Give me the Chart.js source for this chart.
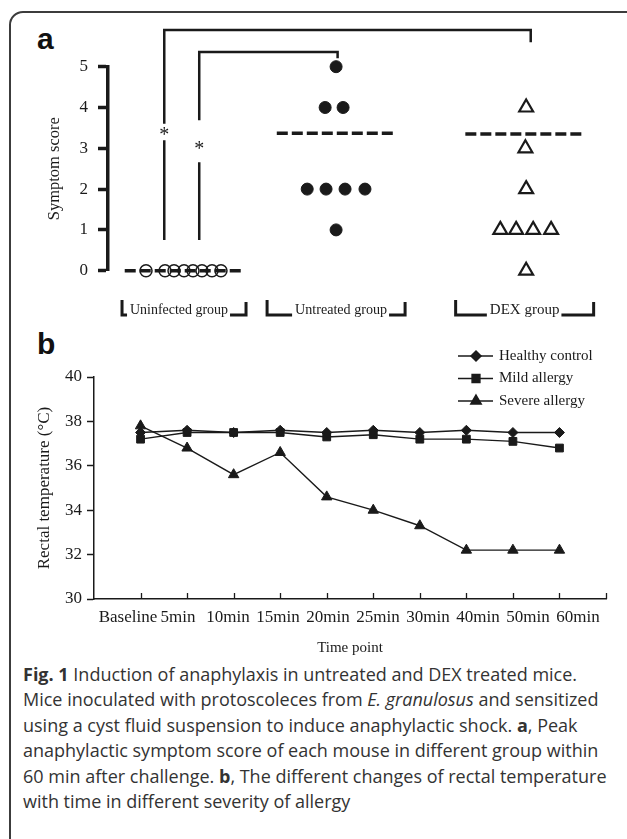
<!DOCTYPE html>
<html>
<head>
<meta charset="utf-8">
<script src="https://cdn.jsdelivr.net/npm/chart.js@4.4.0/dist/chart.umd.min.js"></script>
<style>
  html, body { margin: 0; padding: 0; background: #fff; width: 627px; height: 839px; overflow: hidden; }
  #frame { position: absolute; left: 9px; top: 11px; width: 700px; height: 900px;
           border: 2px solid #3c3c3c; border-top-left-radius: 14px; }
  .panel { position: absolute; font-family: "Liberation Sans", Arial, sans-serif; font-weight: bold;
           font-size: 30px; color: #111; line-height: 1; }
  #wrapA { position: absolute; left: 0; top: 0; width: 627px; height: 330px; }
  #wrapB { position: absolute; left: 0; top: 330px; width: 627px; height: 330px; }
  #caption { position: absolute; left: 23px; top: 662px; font-family: "Open Sans", sans-serif;
             font-size: 18px; line-height: 25.4px; color: #333; white-space: nowrap; }
</style>
</head>
<body>
<div id="frame"></div>
<div class="panel" style="left:37px; top:24px;">a</div>
<div class="panel" style="left:37px; top:329px;">b</div>
<div id="wrapA"><canvas id="chartA"></canvas></div>
<div id="wrapB"><canvas id="chartB"></canvas></div>
<div id="caption"><b>Fig. 1</b> Induction of anaphylaxis in untreated and DEX treated mice.<br>Mice inoculated with protoscoleces from <i>E. granulosus</i> and sensitized<br>using a cyst fluid suspension to induce anaphylactic shock. <b>a</b>, Peak<br>anaphylactic symptom score of each mouse in different group within<br>60 min after challenge. <b>b</b>, The different changes of rectal temperature<br>with time in different severity of allergy</div>

<script>
// ---- panel a: symptom scores ----
const groupNames = ['Uninfected group', 'Untreated group', 'DEX group'];
const groupPos = [1, 2, 3.24];
const uninfectedScores = [0, 0, 0, 0, 0, 0, 0, 0];
const uninfectedJitter = [-0.25, -0.125, -0.066, 0, 0.059, 0.118, 0.184, 0.243];
const untreatedScores = [5, 4, 4, 2, 2, 2, 2, 1];
const untreatedJitter = [0, -0.072, 0.046, -0.19, -0.066, 0.059, 0.19, 0];
const dexScores = [4, 3, 2, 1, 1, 1, 1, 0];
const dexJitter = [0.01, 0.005, 0.01, -0.16, -0.056, 0.056, 0.174, 0.01];
const groupMeans = [0, 3.37, 3.35];

// ---- panel b: rectal temperature ----
const timeLabels = ['Baseline', '5min', '10min', '15min', '20min', '25min', '30min', '40min', '50min', '60min'];
const healthyTemp = [37.5, 37.6, 37.5, 37.6, 37.5, 37.6, 37.5, 37.6, 37.5, 37.5];
const mildTemp = [37.2, 37.5, 37.5, 37.5, 37.3, 37.4, 37.2, 37.2, 37.1, 36.8];
const severeTemp = [37.8, 36.8, 35.6, 36.6, 34.6, 34.0, 33.3, 32.2, 32.2, 32.2];

const serif = '"Liberation Serif", "Times New Roman", serif';
const ink = '#1a1a1a';

function points(scores, jitter, g) {
  return scores.map((s, i) => ({ x: groupPos[g] + jitter[i], y: s }));
}
function meanLine(g) {
  return [{ x: groupPos[g] - 0.39, y: groupMeans[g] }, { x: groupPos[g] + 0.39, y: groupMeans[g] }];
}

// significance brackets (group index, y levels in score units)
const sigBrackets = [
  { from: 0, to: 2, leftOff: -0.13, rightOff: 0.04, top: 5.9, drop: 5.6, gapTop: 3.6, gapBottom: 3.2, star: 3.42, bottom: 0.75 },
  { from: 0, to: 1, leftOff: 0.1, rightOff: 0.01, top: 5.36, drop: 5.21, gapTop: 3.69, gapBottom: 2.66, star: 3.08, bottom: 0.75 }
];
const labelHalf = [62, 69, 69];
const labelShift = [-5, 5, 0];
const labelMaxW = [98, 92, 70];

const annotA = {
  id: 'annotA',
  afterDraw(chart) {
    const { ctx, scales: { x, y } } = chart;
    ctx.save();
    ctx.strokeStyle = ink;
    ctx.fillStyle = ink;
    ctx.lineWidth = 2.5;
    sigBrackets.forEach(b => {
      const xl = x.getPixelForValue(groupPos[b.from] + b.leftOff);
      const xr = x.getPixelForValue(groupPos[b.to] + b.rightOff);
      const yt = y.getPixelForValue(b.top);
      ctx.beginPath();
      ctx.moveTo(xl, y.getPixelForValue(b.gapTop));
      ctx.lineTo(xl, yt);
      ctx.lineTo(xr, yt);
      ctx.lineTo(xr, y.getPixelForValue(b.drop));
      ctx.moveTo(xl, y.getPixelForValue(b.gapBottom));
      ctx.lineTo(xl, y.getPixelForValue(b.bottom));
      ctx.stroke();
      ctx.font = '20px ' + serif;
      ctx.textAlign = 'center';
      ctx.textBaseline = 'alphabetic';
      ctx.fillText('*', xl, y.getPixelForValue(b.star) + 10);
    });

    // group labels with bracket marks
    ctx.lineWidth = 3;
    ctx.font = '15px ' + serif;
    ctx.textAlign = 'center';
    groupNames.forEach((name, g) => {
      const cx = x.getPixelForValue(groupPos[g]);
      const l = cx - labelHalf[g], r = cx + labelHalf[g];
      const tc = cx + labelShift[g];
      const tw = Math.min(ctx.measureText(name).width, labelMaxW[g]);
      ctx.beginPath();
      ctx.moveTo(l, 300); ctx.lineTo(l, 315); ctx.lineTo(tc - tw / 2 - 3, 315);
      ctx.moveTo(tc + tw / 2 + 2, 315); ctx.lineTo(r, 315); ctx.lineTo(r, 302);
      ctx.stroke();
      ctx.fillText(name, tc, 314, labelMaxW[g]);
    });
    ctx.restore();
  }
};

new Chart(document.getElementById('chartA'), {
  type: 'scatter',
  data: {
    datasets: [
      { data: points(uninfectedScores, uninfectedJitter, 0), pointStyle: 'circle', pointRadius: 6,
        pointBackgroundColor: 'rgba(0,0,0,0)', pointBorderColor: ink, pointBorderWidth: 1.5 },
      { data: points(untreatedScores, untreatedJitter, 1), pointStyle: 'circle', pointRadius: 6,
        pointBackgroundColor: ink, pointBorderColor: ink, pointBorderWidth: 1 },
      { data: points(dexScores, dexJitter, 2), pointStyle: 'triangle', pointRadius: 8,
        pointBackgroundColor: '#fff', pointBorderColor: ink, pointBorderWidth: 2.2 },
      { type: 'line', data: meanLine(0), borderColor: ink, borderWidth: 3.5, borderDash: [11, 4], pointRadius: 0 },
      { type: 'line', data: meanLine(1), borderColor: ink, borderWidth: 3.5, borderDash: [11, 4], pointRadius: 0 },
      { type: 'line', data: meanLine(2), borderColor: ink, borderWidth: 3.5, borderDash: [11, 4], pointRadius: 0 }
    ]
  },
  options: {
    responsive: true,
    maintainAspectRatio: false,
    animation: false,
    clip: false,
    layout: { autoPadding: false, padding: { left: 0, right: 2, top: 66.7, bottom: 59.3 } },
    plugins: { legend: { display: false }, tooltip: { enabled: false } },
    scales: {
      x: { type: 'linear', min: 0.5, max: 3.9, display: false },
      y: {
        min: 0, max: 5,
        afterFit: s => { s.width = 108; },
        ticks: { stepSize: 1, font: { family: serif, size: 17 }, color: ink, padding: 10 },
        border: { color: ink, width: 3.5 },
        grid: { drawOnChartArea: false, tickLength: 10, tickWidth: 3.5, tickColor: ink },
        title: { display: true, text: 'Symptom score', color: ink,
                 font: { family: serif, size: 16.5 }, padding: { top: 45, bottom: 0 } }
      }
    }
  },
  plugins: [annotA]
});

// ---- chart b ----
const legendB = {
  id: 'legendB',
  afterDraw(chart) {
    const ctx = chart.ctx;
    ctx.save();
    chart.data.datasets.forEach((ds, i) => {
      const yy = 26 + i * 22.5;
      ctx.strokeStyle = ink;
      ctx.fillStyle = ink;
      ctx.lineWidth = 1.5;
      ctx.beginPath();
      ctx.moveTo(458, yy); ctx.lineTo(493, yy);
      ctx.stroke();
      Chart.helpers.drawPoint(ctx, { pointStyle: ds.pointStyle, radius: ds.pointRadius, borderWidth: 1, rotation: 0 }, 476, yy);
      ctx.font = '15px ' + serif;
      ctx.textAlign = 'left';
      ctx.textBaseline = 'middle';
      ctx.fillText(ds.label, 499, yy);
    });
    ctx.restore();
  }
};
const innerTicks = {
  id: 'innerTicks',
  afterDraw(chart) {
    const { ctx, scales: { x }, chartArea } = chart;
    ctx.save();
    ctx.strokeStyle = ink;
    ctx.lineWidth = 1.3;
    ctx.beginPath();
    for (let i = 0; i <= timeLabels.length; i++) {
      const px = Math.round(x.getPixelForValue(i)) + 0.5;
      ctx.moveTo(px, chartArea.bottom);
      ctx.lineTo(px, chartArea.bottom - 6);
    }
    ctx.stroke();
    ctx.restore();
  }
};

function series(vals) { return vals.map((v, i) => ({ x: i, y: v })); }

new Chart(document.getElementById('chartB'), {
  type: 'line',
  data: {
    datasets: [
      { label: 'Healthy control', data: series(healthyTemp), pointStyle: 'rectRot', pointRadius: 5 },
      { label: 'Mild allergy', data: series(mildTemp), pointStyle: 'rect', pointRadius: 5.5 },
      { label: 'Severe allergy', data: series(severeTemp), pointStyle: 'triangle', pointRadius: 6 }
    ].map(d => Object.assign(d, { borderColor: ink, borderWidth: 1.4, backgroundColor: ink,
                                  pointBackgroundColor: ink, pointBorderColor: ink, pointBorderWidth: 1, tension: 0 }))
  },
  options: {
    responsive: true,
    maintainAspectRatio: false,
    animation: false,
    clip: false,
    layout: { autoPadding: false, padding: { left: 0, right: 21, top: 47, bottom: 0 } },
    plugins: { legend: { display: false }, tooltip: { enabled: false } },
    scales: {
      x: {
        type: 'linear', min: -1, max: 10, weight: 0,
        afterFit: s => { s.height = 0; },
        ticks: { display: false },
        border: { color: ink, width: 1.5 },
        grid: { display: false, drawTicks: false }
      },
      // label row: the original figure spreads the time labels a little wider than the ticks
      xLabels: {
        type: 'linear', position: 'bottom', min: -0.68, max: 9.56, weight: 1,
        afterFit: s => { s.height = 61; },
        afterBuildTicks: s => { s.ticks = timeLabels.map((t, i) => ({ value: i })); },
        ticks: { autoSkip: false, maxRotation: 0, minRotation: 0, padding: 8,
                 font: { family: serif, size: 17 }, color: ink,
                 callback: v => timeLabels[v] },
        border: { display: false },
        grid: { display: false, drawTicks: false },
        title: { display: true, text: 'Time point', color: ink,
                 font: { family: serif, size: 15 }, padding: { top: 0, bottom: 3 } }
      },
      y: {
        min: 30, max: 40,
        afterFit: s => { s.width = 94; },
        ticks: { stepSize: 2, font: { family: serif, size: 17 }, color: ink, padding: 5 },
        border: { color: ink, width: 1.5 },
        grid: { drawOnChartArea: false, tickLength: 7, tickWidth: 1.5, tickColor: ink },
        title: { display: true, text: 'Rectal temperature (°C)', color: ink,
                 font: { family: serif, size: 17 }, padding: { top: 34, bottom: 0 } }
      }
    }
  },
  plugins: [legendB, innerTicks]
});
</script>
</body>
</html>
